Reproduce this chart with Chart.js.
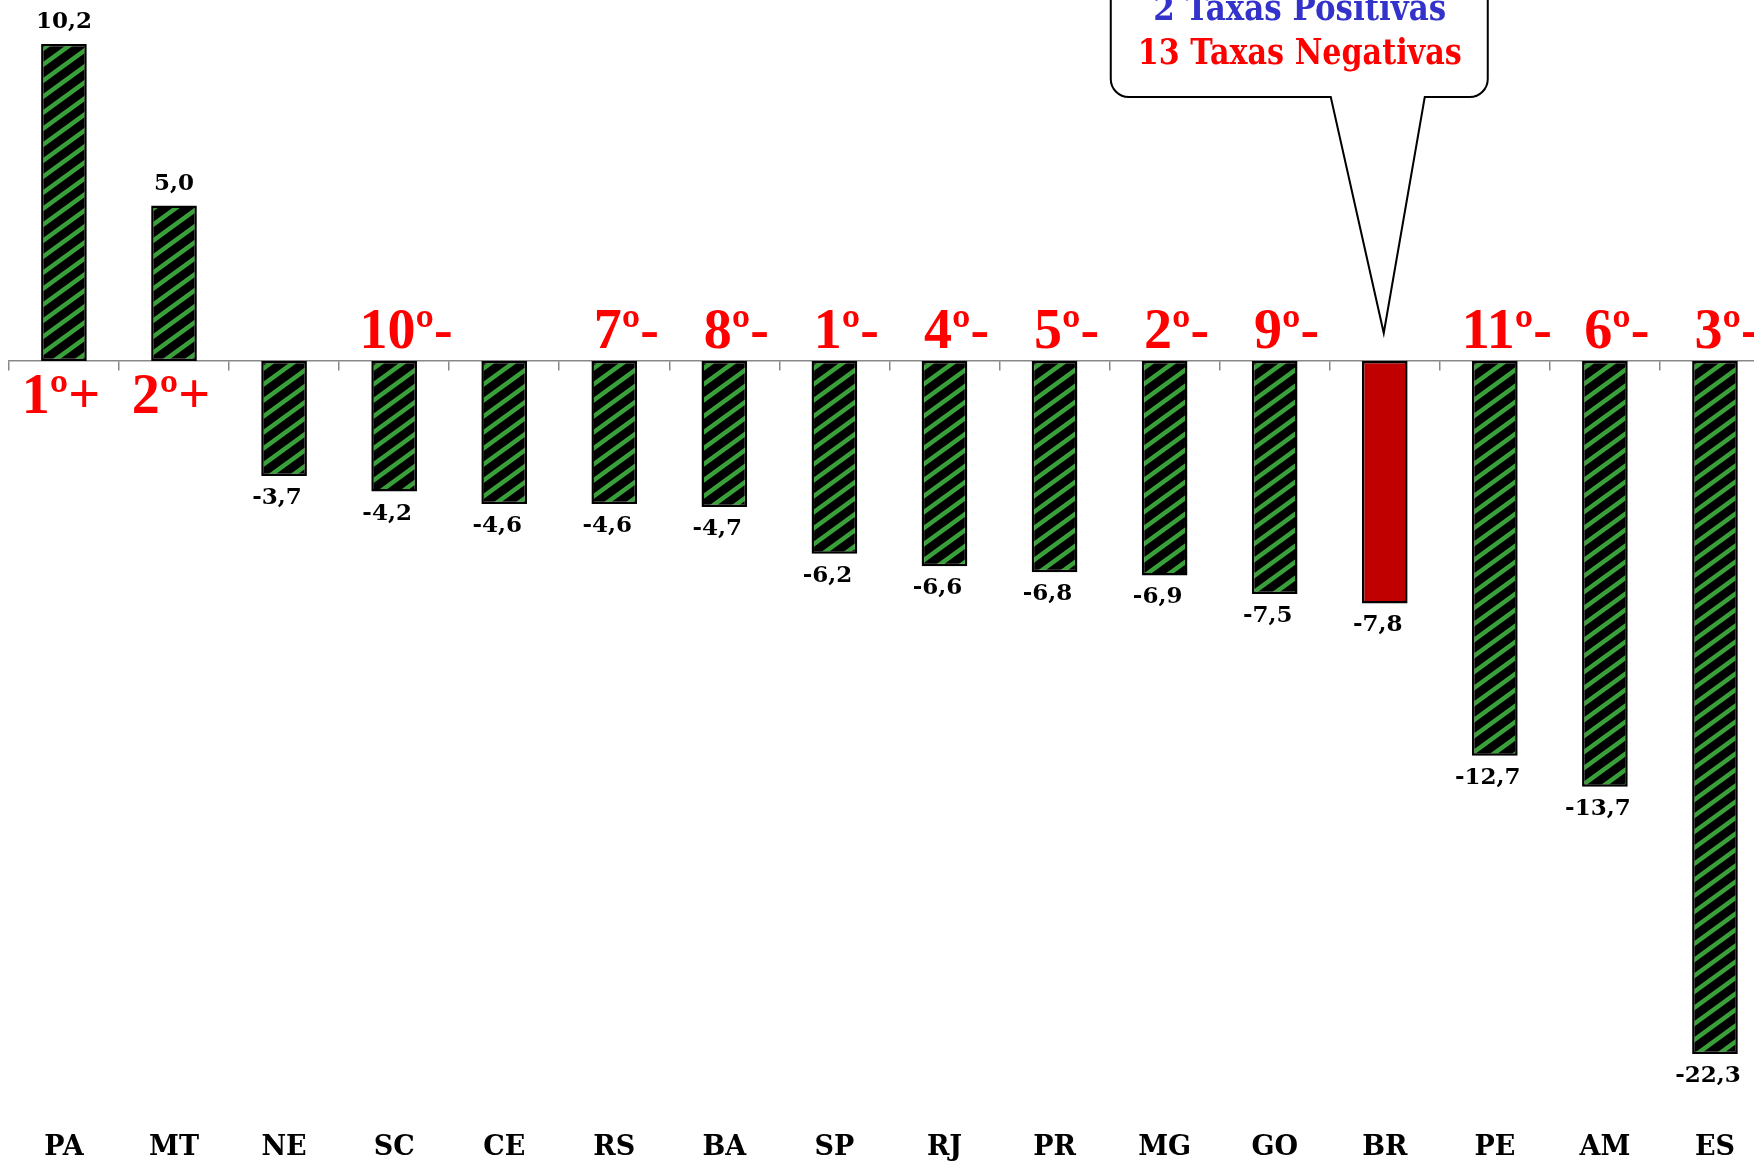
<!DOCTYPE html>
<html><head><meta charset="utf-8">
<script src="https://cdn.jsdelivr.net/npm/chart.js@4/dist/chart.umd.min.js"></script>
<style>
html,body{margin:0;padding:0;background:#fff;overflow:hidden;width:1754px;height:1161px}
#wrap{width:1780px;height:1161px;position:relative}
</style></head>
<body><div id="wrap"><canvas id="c" width="1780" height="1161"></canvas></div>
<script>
// ---- data ----
const categories = ['PA','MT','NE','SC','CE','RS','BA','SP','RJ','PR','MG','GO','BR','PE','AM','ES'];
const values = [10.2, 5.0, -3.7, -4.2, -4.6, -4.6, -4.7, -6.2, -6.6, -6.8, -6.9, -7.5, -7.8, -12.7, -13.7, -22.3];
const rankLabels = ['1º+','2º+','','10º-','','7º-','8º-','1º-','4º-','5º-','2º-','9º-','','11º-','6º-','3º-'];
const calloutPositive = '2 Taxas Positivas';
const calloutNegative = '13 Taxas Negativas';
const highlightCategory = 'BR';

// ---- styles ----
function hatchPattern(){
  const w = 22, h = 16, c = document.createElement('canvas');
  c.width = w; c.height = h;
  const g = c.getContext('2d');
  g.fillStyle = '#000'; g.fillRect(0,0,w,h);
  g.strokeStyle = '#39a039'; g.lineWidth = 4.5;
  g.beginPath();
  g.moveTo(-w, 2*h); g.lineTo(2*w, -h);
  g.moveTo(-w, h); g.lineTo(w, -h);
  g.moveTo(0, 2*h); g.lineTo(2*w, 0);
  g.stroke();
  return g.createPattern(c, 'repeat');
}
const ctx0 = document.getElementById('c').getContext('2d');
const pattern = hatchPattern();
const fills = categories.map(c => c === highlightCategory ? '#c00000' : pattern);

const fmt = v => v.toFixed(1).replace('.', ',');

const labelPlugin = {
  id: 'labels',
  afterDatasetsDraw(chart){
    const ctx = chart.ctx;
    const meta = chart.getDatasetMeta(0);
    const yZero = chart.scales.y.getPixelForValue(0);
    ctx.save();
    meta.data.forEach((bar, i) => {
      const v = values[i];
      ctx.font = 'bold 23px "DejaVu Serif"';
      ctx.fillStyle = '#000';
      ctx.textAlign = 'center';
      ctx.textBaseline = 'middle';
      if (v >= 0) ctx.fillText(fmt(v), bar.x, bar.y - 22);
      else ctx.fillText(fmt(v), bar.x - 7, bar.y + 22);
      const r = rankLabels[i];
      if (r) {
        ctx.font = 'bold 56px "Liberation Serif"';
        ctx.fillStyle = '#ff0000';
        ctx.textBaseline = 'alphabetic';
        if (v >= 0) ctx.fillText(r, bar.x - 3, yZero + 52);
        else ctx.fillText(r, bar.x + 12, yZero - 13);
      }
    });
    ctx.restore();
  },
  afterDraw(chart){
    const ctx = chart.ctx;
    const yZero = chart.scales.y.getPixelForValue(0);
    const bx = chart.scales.x.getPixelForValue(categories.indexOf(highlightCategory));
    const L = bx - 274, R = bx + 103, B = yZero - 264, T = -40, rad = 18;
    const tipX = bx - 1, tipY = yZero - 28;
    ctx.save();
    ctx.beginPath();
    ctx.moveTo(L, T);
    ctx.lineTo(L, B - rad);
    ctx.arcTo(L, B, L + rad, B, rad);
    ctx.lineTo(bx - 54, B);
    ctx.lineTo(tipX, tipY);
    ctx.lineTo(bx + 40, B);
    ctx.lineTo(R - rad, B);
    ctx.arcTo(R, B, R, B - rad, rad);
    ctx.lineTo(R, T);
    ctx.closePath();
    ctx.fillStyle = '#fff';
    ctx.fill();
    ctx.strokeStyle = '#000';
    ctx.lineWidth = 2;
    ctx.lineJoin = 'miter';
    ctx.stroke();
    ctx.textAlign = 'center';
    ctx.textBaseline = 'alphabetic';
    ctx.font = 'bold 35px "DejaVu Serif"';
    ctx.fillStyle = '#3333cc';
    ctx.fillText(calloutPositive, bx - 85, yZero - 341, 293);
    ctx.fillStyle = '#ff0000';
    ctx.fillText(calloutNegative, bx - 85, yZero - 297, 324);
    ctx.restore();
  }
};

new Chart(ctx0, {
  type: 'bar',
  data: {
    labels: categories,
    datasets: [{
      data: values,
      backgroundColor: fills,
      borderColor: '#000',
      borderWidth: 2.5,
      borderSkipped: false,
      barPercentage: 0.415,
      categoryPercentage: 1
    }]
  },
  options: {
    responsive: false,
    animation: false,
    layout: { padding: { left: 8.9, right: 10, top: 3.6, bottom: 0 } },
    plugins: { legend: { display: false }, tooltip: { enabled: false } },
    scales: {
      y: { display: false, min: -23.6, max: 11.5 },
      x: {
        type: 'category',
        position: { y: 0 },
        offset: true,
        ticks: { display: false },
        grid: { display: true, offset: true, drawOnChartArea: false, drawTicks: true, tickLength: 9, color: '#888', lineWidth: 1.5 },
        border: { display: true, color: '#888', width: 1.5 }
      },
      x2: {
        type: 'category',
        position: 'bottom',
        offset: true,
        grid: { display: false },
        border: { display: false },
        ticks: { color: '#000', font: { family: 'DejaVu Serif', weight: 'bold', size: 27 }, padding: 29, maxRotation: 0, autoSkip: false },
        afterFit(scale){ scale.height = 66.5; }
      }
    }
  },
  plugins: [labelPlugin]
});
</script>
</body></html>
